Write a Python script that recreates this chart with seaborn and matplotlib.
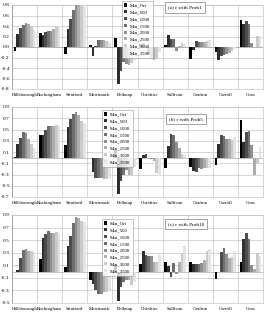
import numpy as np
import pandas as pd
import matplotlib
matplotlib.use("Agg")
import matplotlib.pyplot as plt
import seaborn as sns

counties = ["Hillsborough", "Rockingham", "Strafford", "Merrimack", "Belknap",
            "Cheshire", "Sullivan", "Grafton", "Carroll", "Coos"]
series = ["Min_Ori", "Min_500", "Min_1000", "Min_1500", "Min_2000",
          "Min_2500", "Min_3000", "Min_3500"]

# rows = counties, columns = series
r_prob1 = [
    [-0.07, 0.25, 0.36, 0.42, 0.45, 0.44, 0.40, 0.35],
    [0.26, 0.22, 0.29, 0.30, 0.31, 0.35, 0.38, 0.40],
    [-0.14, 0.34, 0.53, 0.71, 0.82, 0.82, 0.81, 0.80],
    [0.04, -0.18, 0.02, 0.14, 0.14, 0.13, 0.12, 0.10],
    [0.17, -0.70, -0.45, -0.29, -0.33, -0.35, -0.31, -0.25],
    [0.06, 0.07, -0.02, -0.13, -0.20, -0.24, -0.23, -0.10],
    [0.03, 0.23, 0.16, 0.15, -0.08, 0.01, 0.08, 0.06],
    [-0.23, -0.06, 0.11, 0.09, 0.10, 0.10, 0.12, 0.14],
    [-0.10, -0.24, -0.17, -0.15, -0.13, -0.11, -0.07, -0.04],
    [0.52, 0.43, 0.49, 0.43, 0.08, 0.00, 0.21, 0.21],
]
r_prob5 = [
    [0.01, 0.24, 0.35, 0.45, 0.43, 0.33, 0.25, 0.17],
    [0.40, 0.41, 0.49, 0.56, 0.56, 0.56, 0.58, 0.56],
    [0.23, 0.55, 0.69, 0.78, 0.82, 0.75, 0.65, 0.62],
    [0.00, -0.25, -0.36, -0.37, -0.37, -0.38, -0.38, -0.37],
    [0.13, -0.64, -0.41, -0.30, -0.22, -0.30, -0.30, -0.16],
    [-0.20, 0.04, 0.06, -0.01, -0.03, -0.06, -0.27, -0.33],
    [-0.19, 0.20, 0.42, 0.41, 0.28, 0.17, 0.06, 0.04],
    [-0.16, -0.24, -0.25, -0.19, -0.20, -0.18, -0.19, -0.18],
    [-0.13, 0.25, 0.41, 0.39, 0.34, 0.33, 0.32, 0.37],
    [0.67, 0.27, 0.45, 0.47, 0.23, -0.31, -0.10, 0.19],
]
r_prob10 = [
    [0.00, 0.03, 0.21, 0.35, 0.36, 0.33, 0.33, 0.31],
    [0.20, 0.54, 0.60, 0.65, 0.61, 0.61, 0.63, 0.62],
    [0.07, 0.40, 0.57, 0.77, 0.87, 0.85, 0.80, 0.79],
    [-0.14, -0.20, -0.30, -0.35, -0.35, -0.33, -0.32, -0.30],
    [0.11, -0.47, -0.25, -0.17, -0.14, -0.14, -0.22, -0.17],
    [0.12, 0.33, 0.27, 0.24, 0.25, 0.15, 0.15, 0.27],
    [0.16, 0.09, -0.09, 0.14, -0.04, 0.16, 0.30, 0.41],
    [0.16, 0.12, 0.12, 0.12, 0.13, 0.18, 0.32, 0.36],
    [-0.12, -0.01, 0.31, 0.37, 0.28, 0.22, 0.23, 0.33],
    [0.15, 0.52, 0.62, 0.52, 0.10, 0.04, 0.29, 0.25],
]
panel_titles = ["(a) r with Prob1", "(b) r with Prob5", "(c) r with Prob10"]
yticks_list = [
    [-0.8, -0.6, -0.4, -0.2, 0.0, 0.2, 0.4, 0.6, 0.8],
    [-0.7, -0.5, -0.3, -0.1, 0.1, 0.3, 0.5, 0.7, 0.9],
    [-0.5, -0.3, -0.1, 0.1, 0.3, 0.5, 0.7, 0.9],
]

colors = ["#000000", "#2e2e2e", "#4d4d4d", "#6e6e6e",
          "#8f8f8f", "#adadad", "#cacaca", "#e4e4e4"]

plt.rcParams["font.family"] = ["Liberation Serif", "DejaVu Serif"]

fig = plt.figure(figsize=(2.66, 3.12), dpi=100)
# [left, bottom, width, height] in figure fraction
positions = [
    [12 / 266, 1 - 89 / 312, 251 / 266, 84 / 312],
    [12 / 266, 1 - 197 / 312, 251 / 266, 90 / 312],
    [12 / 266, 1 - 303 / 312, 251 / 266, 88 / 312],
]
legend_boxes = [
    (122 / 266, 1 - 1 / 312),
    (102 / 266, 1 - 110 / 312),
    (102 / 266, 1 - 219 / 312),
]
title_pos = [
    (168 / 266, 1 - 7.5 / 312),
    (169 / 266, 1 - 119 / 312),
    (168 / 266, 1 - 224 / 312),
]

for i, data in enumerate([r_prob1, r_prob5, r_prob10]):
    rows = []
    for c, vals in zip(counties, data):
        for s, v in zip(series, vals):
            rows.append({"county": c, "series": s, "r": v})
    df = pd.DataFrame(rows)
    ax = fig.add_axes(positions[i])
    sns.barplot(data=df, x="county", y="r", hue="series", order=counties,
                hue_order=series, palette=colors, width=0.86, ax=ax,
                edgecolor="none", linewidth=0, zorder=3)
    yt = yticks_list[i]
    ax.set_ylim(yt[0], yt[-1])
    ax.set_yticks(yt)
    ax.set_yticklabels([f"{t:.1f}" for t in yt])
    ax.set_xlim(-0.5, len(counties) - 0.5)
    for y in yt:
        ax.axhline(y, color="#c0c0c0", lw=0.45, zorder=1)
    ax.axhline(0, color="#a0a0a0", lw=0.45, zorder=2)
    for xb in np.arange(0.5, len(counties) - 0.5, 1):
        ax.axvline(xb, color="#c0c0c0", lw=0.45, zorder=1)
    ax.set_xlabel("")
    ax.set_ylabel("")
    ax.tick_params(axis="y", length=0, labelsize=3.9, pad=1.5)
    ax.tick_params(axis="x", length=0, labelsize=3.55, pad=3)
    for sp in ["top", "right", "bottom"]:
        ax.spines[sp].set_color("#c0c0c0")
        ax.spines[sp].set_linewidth(0.45)
    ax.spines["left"].set_color("#808080")
    ax.spines["left"].set_linewidth(0.5)
    leg = ax.legend(loc="upper left", bbox_to_anchor=legend_boxes[i],
                    bbox_transform=fig.transFigure, fontsize=3.5,
                    handlelength=0.6, handleheight=0.6, handletextpad=0.5,
                    labelspacing=0.52, borderpad=0.5, borderaxespad=0,
                    frameon=True, fancybox=False, title=None)
    leg.get_frame().set_edgecolor("#808080")
    leg.get_frame().set_linewidth(0.4)
    fig.text(title_pos[i][0], title_pos[i][1], panel_titles[i], fontsize=3.8,
             ha="left", va="center",
             bbox=dict(boxstyle="square,pad=0.6", fc="white", ec="#808080", lw=0.5))

fig.savefig("out.png", dpi=100)
